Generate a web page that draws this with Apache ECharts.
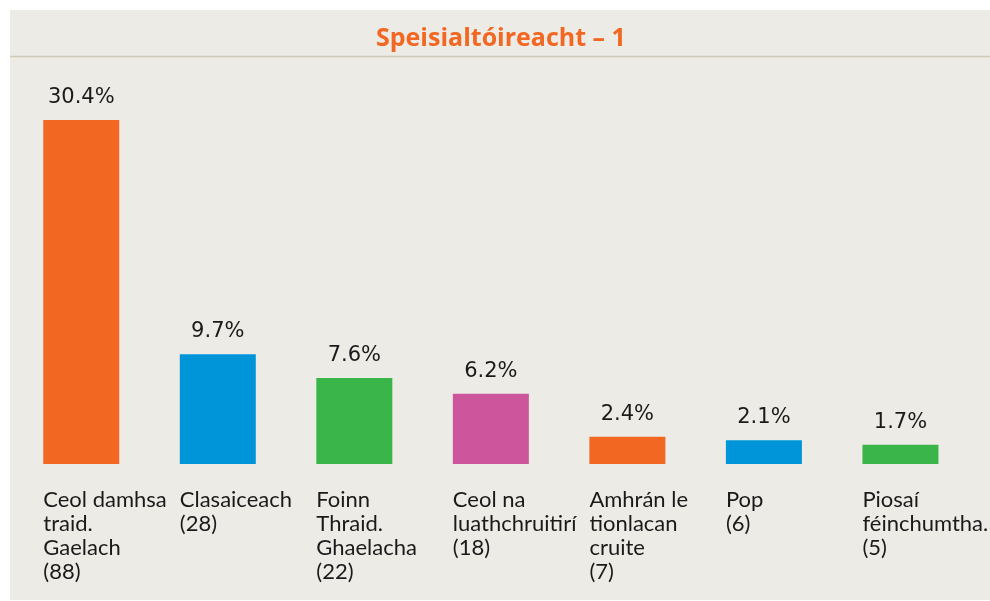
<!DOCTYPE html>
<html><head><meta charset="utf-8">
<script src="https://cdn.jsdelivr.net/npm/echarts@6/dist/echarts.min.js"></script>
<style>html,body{margin:0;padding:0;background:#fff;overflow:hidden}#c{width:100vw;height:100vh}</style>
</head><body><div id="c"></div>
<script>
const categories = [
  "Ceol damhsa\ntraid.\nGaelach\n(88)",
  "Clasaiceach\n(28)",
  "Foinn\nThraid.\nGhaelacha\n(22)",
  "Ceol na\nluathchruitirí\n(18)",
  "Amhrán le\ntionlacan\ncruite\n(7)",
  "Pop\n(6)",
  "Piosaí\nféinchumtha.\n(5)"
];
const values = [30.4, 9.7, 7.6, 6.2, 2.4, 2.1, 1.7];
const barColors = ["#f26722", "#0095d9", "#3ab54a", "#cc559b", "#f26722", "#0095d9", "#3ab54a"];
const titleText = "Speisialtóireacht – 1";

const chart = echarts.init(document.getElementById('c'), null, {renderer: 'canvas'});
chart.setOption({
  backgroundColor: '#ffffff',
  animation: false,
  title: {
    text: titleText,
    left: 371,
    top: 21,
    padding: 5,
    textStyle: {color: '#f26722', fontFamily: 'Open Sans', fontWeight: 'bold', fontSize: 25}
  },
  graphic: [
    {type: 'rect', z: -10, silent: true, shape: {x: 10, y: 10, width: 980, height: 590}, style: {fill: '#ecebe6'}},
    {type: 'line', z: -9, silent: true, shape: {x1: 10, y1: 56.5, x2: 990, y2: 56.5}, style: {stroke: '#cdc9b4', lineWidth: 1.5}}
  ],
  grid: {left: 13, right: 4, top: 120, bottom: 137},
  xAxis: {
    type: 'category',
    data: categories,
    axisLine: {show: false},
    axisTick: {show: false},
    axisLabel: {
      interval: 0,
      align: 'left',
      verticalAlign: 'top',
      margin: 24,
      padding: [0, 0, 0, -38],
      color: '#1a1a1a',
      fontFamily: 'Lato',
      fontSize: 22,
      lineHeight: 24
    }
  },
  yAxis: {type: 'value', min: 0, max: 'dataMax', show: false, splitLine: {show: false}},
  series: [{
    type: 'bar',
    barWidth: 76,
    data: values.map((v, i) => ({value: v, itemStyle: {color: barColors[i]}})),
    label: {
      show: true,
      position: 'top',
      distance: 12,
      formatter: p => p.value.toFixed(1) + '%',
      color: '#1a1a1a',
      fontFamily: 'DejaVu Sans',
      fontSize: 21
    }
  }]
});
</script></body></html>
